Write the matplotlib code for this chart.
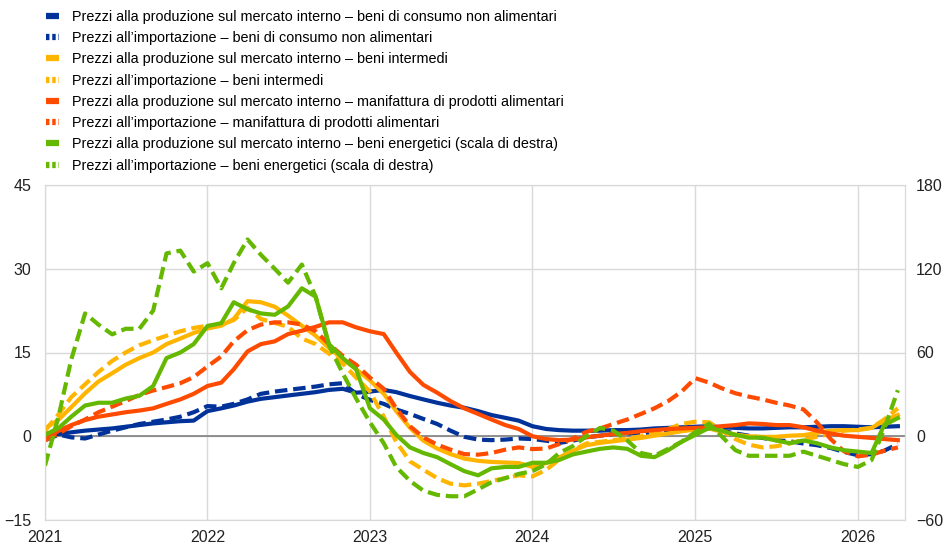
import numpy as np
import pandas as pd
import matplotlib
matplotlib.use("Agg")
import matplotlib.pyplot as plt
import matplotlib.dates as mdates
from matplotlib.lines import Line2D

plt.rcParams['font.family'] = ['Liberation Sans', 'DejaVu Sans']

months = pd.date_range("2021-01-01", "2026-04-01", freq="MS")

# left scale (%)
cons_dom = [0.5, 0.4, 0.7, 1.0, 1.2, 1.4, 1.7, 2.0, 2.3, 2.5, 2.7, 2.8,
            4.5, 5.0, 5.5, 6.2, 6.7, 7.0, 7.3, 7.6, 7.9, 8.3, 8.5, 7.8,
            8.0, 8.3, 7.9, 7.2, 6.6, 6.0, 5.5, 5.1, 4.5, 3.8, 3.3, 2.8,
            1.8, 1.3, 1.1, 1.0, 1.0, 1.0, 1.1, 1.1, 1.2, 1.4, 1.5, 1.6,
            1.7, 1.8, 1.6, 1.5, 1.4, 1.4, 1.5, 1.6, 1.6, 1.7, 1.8, 1.8,
            1.7, 1.6, 1.7, 1.8]
cons_imp = [-0.7, 0.3, -0.2, -0.4, 0.3, 1.0, 1.6, 2.2, 2.6, 3.0, 3.5, 4.3,
            5.4, 5.3, 5.8, 6.6, 7.6, 8.0, 8.3, 8.6, 8.9, 9.3, 9.5, 7.6,
            6.5, 5.8, 4.8, 4.0, 3.1, 2.2, 1.0, -0.1, -0.6, -0.7, -0.6, -0.4,
            -0.5, -0.8, -1.2, -0.8, -0.2, 0.1, 0.4, 0.5, 0.6, 0.7, 0.9, 1.1,
            1.3, 1.4, 1.0, 0.5, 0.1, -0.3, -0.7, -0.9, -1.3, -1.6, -2.1, -2.8,
            -3.4, -3.2, -2.6, -1.4]
inter_dom = [1.4, 3.0, 5.2, 7.7, 9.8, 11.3, 12.8, 14.0, 15.0, 16.5, 17.5, 18.5,
             19.3, 19.8, 21.0, 24.2, 24.0, 23.2, 21.6, 19.8, 18.0, 15.8, 13.8, 12.0,
             10.0, 7.6, 4.5, 1.5, -0.8, -2.2, -3.2, -4.0, -4.4, -4.6, -4.7, -4.8,
             -5.5, -4.8, -3.8, -2.6, -1.6, -1.2, -0.9, -0.6, -0.3, 0.1, 0.5, 0.9,
             1.2, 1.4, 0.8, 0.3, 0.0, -0.1, -0.1, 0.1, 0.2, 0.6, 1.0, 1.1,
             1.1, 1.5, 2.8, 3.8]
inter_imp = [1.0, 4.0, 7.0, 9.3, 11.5, 13.5, 15.0, 16.3, 17.2, 18.0, 18.8, 19.4,
             19.8, 20.0, 20.8, 23.0, 21.0, 20.3, 19.6, 17.5, 16.5, 14.8, 13.0, 10.5,
             8.0, 3.5, -1.0, -4.5, -6.0, -7.5, -8.5, -8.8, -8.5, -8.0, -7.5, -7.0,
             -7.2, -6.0, -4.2, -2.5, -1.3, -1.0, -0.7, -0.4, 0.0, 0.6, 1.3, 2.2,
             2.6, 2.5, 1.1, -0.5, -1.5, -2.0, -1.8, -1.3, -0.6, -0.1, 0.5, 1.0,
             1.2, 1.5, 3.0, 5.0]
food_dom = [-0.7, 1.0, 2.0, 2.9, 3.5, 3.9, 4.3, 4.6, 5.0, 5.8, 6.6, 7.6,
            9.0, 9.6, 12.0, 15.2, 16.5, 17.0, 18.3, 18.9, 19.6, 20.4, 20.4, 19.5,
            18.8, 18.3, 15.0, 11.5, 9.2, 7.8, 6.3, 5.0, 4.0, 3.0, 2.0, 1.3,
            0.0, -0.5, -0.7, -0.6, -0.2, 0.1, 0.4, 0.6, 0.9, 1.1, 1.3, 1.4,
            1.5, 1.6, 1.8, 2.0, 2.3, 2.2, 2.0, 2.0, 1.6, 1.0, 0.5, 0.1,
            -0.1, -0.3, -0.5, -0.7]
food_imp = [-0.7, 0.5, 1.8, 3.0, 4.3, 5.3, 6.3, 7.4, 8.2, 8.8, 9.5, 10.6,
            12.5, 14.3, 17.0, 19.0, 20.0, 20.4, 20.4, 20.0, 18.8, 16.5, 14.4, 12.8,
            10.5, 8.5, 5.0, 1.8, -0.2, -1.5, -2.4, -3.2, -3.3, -3.0, -2.4, -2.0,
            -2.3, -2.2, -1.4, -0.4, 0.8, 1.4, 2.2, 3.0, 4.0, 5.0, 6.3, 8.0,
            10.4, 9.6, 8.6, 7.7, 7.1, 6.6, 6.0, 5.5, 4.8, 2.5, -0.5, -2.7,
            -3.6, -3.3, -2.6, -2.0]

# right scale (%)
energy_dom = [1, 6, 14, 22, 24, 24, 27, 29, 36, 56, 60, 66,
              79, 81, 96, 91, 88, 87, 93, 106, 100, 66, 56, 48,
              20, 12, 1, -8, -12, -15, -20, -25, -28, -23, -22, -22,
              -19, -19, -17, -13, -11, -9, -8, -9, -14, -15, -10, -4,
              1, 6, 4, 1, -1, -1, -3, -5, -3, -5, -8, -10,
              -11, -12, 8, 13]
energy_imp = [-21, 15, 55, 88, 80, 73, 77, 77, 90, 131, 133, 118,
              124, 106, 124, 141, 130, 120, 110, 123, 100, 65, 45, 27,
              10, -5, -22, -32, -39, -42, -43, -43, -38, -33, -30, -27,
              -25, -20, -12, -7, 0, 6, 4, -3, -12, -14, -9, -4,
              3, 9, 0, -10, -14, -14, -14, -14, -11, -14, -17, -20,
              -22, -17, 5, 33]

labels = [
    "Prezzi alla produzione sul mercato interno \u2013 beni di consumo non alimentari",
    "Prezzi all\u2019importazione \u2013 beni di consumo non alimentari",
    "Prezzi alla produzione sul mercato interno \u2013 beni intermedi",
    "Prezzi all\u2019importazione \u2013 beni intermedi",
    "Prezzi alla produzione sul mercato interno \u2013 manifattura di prodotti alimentari",
    "Prezzi all\u2019importazione \u2013 manifattura di prodotti alimentari",
    "Prezzi alla produzione sul mercato interno \u2013 beni energetici (scala di destra)",
    "Prezzi all\u2019importazione \u2013 beni energetici (scala di destra)",
]

blue, yellow, orange, green = "#003299", "#FFB400", "#FF4B00", "#65B800"
dash = (0, (3, 1.4))
lw = 3

fig = plt.figure(figsize=(9.45, 5.44), dpi=100)
ax = fig.add_axes([45 / 945, 1 - 520 / 544, 860 / 945, 335 / 544])
ax2 = ax.twinx()

ax.plot(months, cons_dom, color=blue, lw=lw)
ax.plot(months, cons_imp, color=blue, lw=lw, ls=dash)
ax.plot(months, inter_dom, color=yellow, lw=lw)
ax.plot(months, inter_imp, color=yellow, lw=lw, ls=dash)
ax.plot(months, food_dom, color=orange, lw=lw)
ax.plot(months, food_imp, color=orange, lw=lw, ls=dash)
ax2.plot(months, energy_dom, color=green, lw=lw)
ax2.plot(months, energy_imp, color=green, lw=lw, ls=dash)

ax.axhline(0, color="#808080", lw=1.2, zorder=1)

ax.set_ylim(-15, 45)
ax.set_yticks([-15, 0, 15, 30, 45])
ax2.set_ylim(-60, 180)
ax2.set_yticks([-60, 0, 60, 120, 180])
ax.set_xlim(pd.Timestamp("2021-01-01"), pd.Timestamp("2026-04-17"))
ax.xaxis.set_major_locator(mdates.YearLocator())
ax.xaxis.set_major_formatter(mdates.DateFormatter("%Y"))

ax.grid(True, color="#d9d9d9", lw=1)
ax.set_axisbelow(True)
for a in (ax, ax2):
    for s in a.spines.values():
        s.set_color("#d9d9d9")
    a.tick_params(length=0, labelsize=11.5, colors="#222222")
ax.tick_params(axis="x", pad=7)
ax.tick_params(axis="y", pad=10)
ax2.tick_params(axis="y", pad=8)

# legend proxies: thick short bar for solid, dotted bar for dashed
colors = [blue, blue, yellow, yellow, orange, orange, green, green]
handles = []
for i, (c, lab) in enumerate(zip(colors, labels)):
    if i % 2 == 0:
        handles.append(Line2D([], [], color=c, lw=4.5, solid_capstyle="butt", label=lab))
    else:
        handles.append(Line2D([], [], color=c, lw=4.5, ls=(0, (0.55, 0.45)), label=lab))

fig.legend(handles=handles, loc="upper left", bbox_to_anchor=(46 / 945, 1 - 10 / 544),
           frameon=False, fontsize=10.4, handlelength=0.9, handletextpad=0.9,
           labelspacing=0.5, borderpad=0, borderaxespad=0)

fig.savefig("out.png", dpi=100)
